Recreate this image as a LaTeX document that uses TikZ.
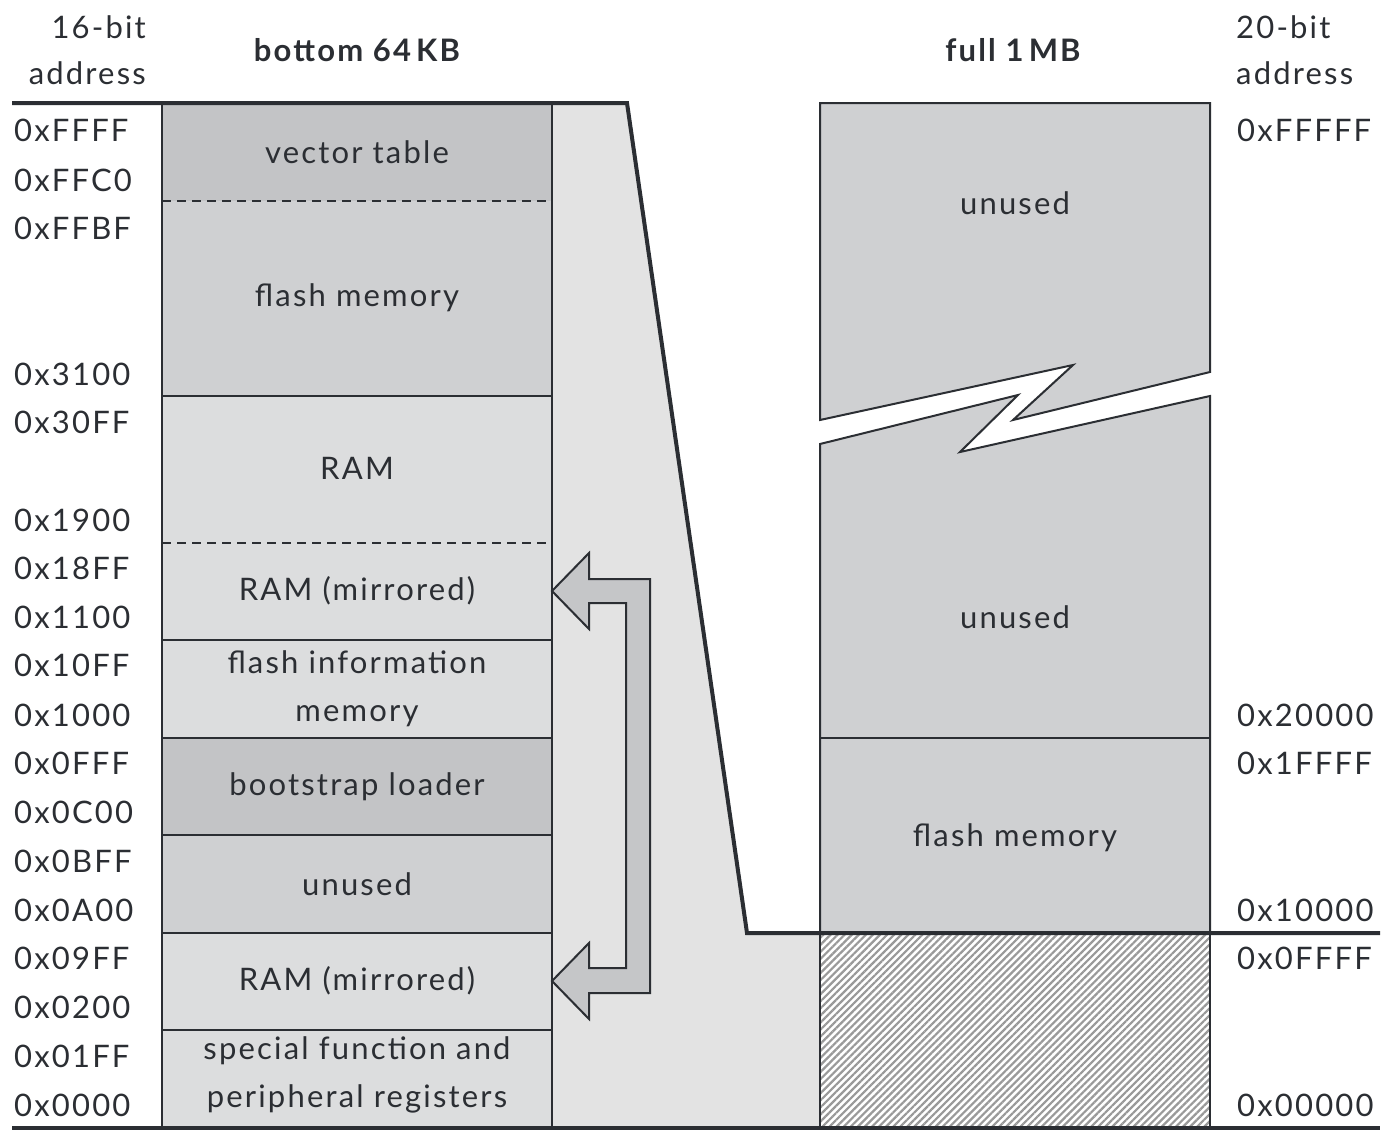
\documentclass[tikz,border=0pt]{standalone}
\usepackage{fontspec}
\setmainfont{Lato}[LetterSpace=7]
\usetikzlibrary{patterns.meta}
\definecolor{ink}{HTML}{2B2E33}
\definecolor{dark}{HTML}{C3C4C6}
\definecolor{mid}{HTML}{CFD0D2}
\definecolor{light}{HTML}{DCDDDE}
\definecolor{bgl}{HTML}{E3E3E3}
\definecolor{arr}{HTML}{C5C6C8}
\tikzset{
  txt/.style={font=\fontsize{31}{48}\selectfont, text=ink, inner sep=0pt, align=center},
  addr/.style={font=\fontsize{31}{48}\selectfont, text=ink, inner sep=0pt, anchor=west},
  hdr/.style={font=\fontsize{31}{46}\selectfont\bfseries, text=ink, inner sep=0pt},
  thick line/.style={draw=ink, line width=4pt},
  col line/.style={draw=ink, line width=2.5pt},
  blk line/.style={draw=ink, line width=2pt},
  dash line/.style={draw=ink, line width=1.8pt, dash pattern=on 9pt off 6pt},
}
\begin{document}
\begin{tikzpicture}[x=1pt,y=-1pt]
\useasboundingbox (0,0) rectangle (1394,1143);
% light background region
\fill[bgl] (552,103) -- (627,103) -- (747,933) -- (820,933) -- (820,1128) -- (552,1128) -- cycle;
% left column fills
\fill[dark]  (162,103) rectangle (552,201);
\fill[mid]   (162,201) rectangle (552,396);
\fill[light] (162,396) rectangle (552,738);
\fill[dark]  (162,738) rectangle (552,835);
\fill[mid]   (162,835) rectangle (552,933);
\fill[light] (162,933) rectangle (552,1128);
% left column separators
\draw[dash line] (162,201) -- (552,201);
\draw[col line] (162,396) -- (552,396);
\draw[dash line] (162,543) -- (552,543);
\draw[col line] (162,640) -- (552,640);
\draw[col line] (162,738) -- (552,738);
\draw[col line] (162,835) -- (552,835);
\draw[col line] (162,933) -- (552,933);
\draw[col line] (162,1030) -- (552,1030);
\draw[col line] (162,103) -- (162,1128);
\draw[col line] (552,103) -- (552,1128);
% right column
\filldraw[fill=mid, blk line, line join=miter] (820,103) -- (1210,103) -- (1210,372) -- (1013,420) -- (1073,365) -- (820,420) -- cycle;
\filldraw[fill=mid, blk line, line join=miter] (820,444) -- (1018,395) -- (960,452) -- (1210,396) -- (1210,933) -- (820,933) -- cycle;
\draw[blk line] (820,738) -- (1210,738);
\fill[white] (820,933) rectangle (1210,1128);
\fill[pattern={Lines[angle=45,distance=5pt,line width=2.2pt]}, pattern color=black!40] (820,933) rectangle (1210,1128);
\draw[col line] (820,933) -- (820,1128);
\draw[col line] (1210,933) -- (1210,1128);
% mirror arrow
\filldraw[fill=arr, draw=ink, line width=2pt, line join=miter]
  (552,591) -- (589,553) -- (589,579) -- (650,579) -- (650,993) -- (589,993) -- (589,1019)
  -- (552,981) -- (589,943) -- (589,968) -- (626,968) -- (626,603) -- (589,603) -- (589,629) -- cycle;
% thick outline
\draw[thick line, line join=miter] (12,103) -- (627,103) -- (747,933) -- (1380,933);
\draw[thick line] (12,1128) -- (1380,1128);
% headers
\node[txt, align=right, anchor=east, font=\fontsize{31}{46}\selectfont] (h16) at (146,50) {16-bit\\address};
\node[txt, align=left, anchor=west, font=\fontsize{31}{46}\selectfont] (h20) at (1236,50) {20-bit\\address};
\node[hdr] (hb) at (357,50) {bottom 64\,KB};
\node[hdr] (hf) at (1013,50) {full 1\,MB};
% block texts
\node[txt] (t1) at (357,152) {vector table};
\node[txt] (t2) at (357,298) {flash memory};
\node[txt] (t3) at (357,468) {RAM};
\node[txt] (t4) at (357,591) {RAM (mirrored)};
\node[txt] (t5) at (357,689) {flash information\\memory};
\node[txt] (t6) at (357,787) {bootstrap loader};
\node[txt] (t7) at (357,884) {unused};
\node[txt] (t8) at (357,981) {RAM (mirrored)};
\node[txt] (t9) at (357,1075) {special function and\\peripheral registers};
\node[txt] (r1) at (1015,203) {unused};
\node[txt] (r2) at (1015,617) {unused};
\node[txt] (r3) at (1015,838) {flash memory};
% 16-bit addresses
\node[addr] (a1) at (14,130) {0xFFFF};
\node[addr] (a2) at (14,180) {0xFFC0};
\node[addr] (a3) at (14,228) {0xFFBF};
\node[addr] (a4) at (14,374) {0x3100};
\node[addr] (a5) at (14,422) {0x30FF};
\node[addr] (a6) at (14,520) {0x1900};
\node[addr] (a7) at (14,568) {0x18FF};
\node[addr] (a8) at (14,617) {0x1100};
\node[addr] (a9) at (14,665) {0x10FF};
\node[addr] (a10) at (14,715) {0x1000};
\node[addr] (a11) at (14,763) {0x0FFF};
\node[addr] (a12) at (14,812) {0x0C00};
\node[addr] (a13) at (14,861) {0x0BFF};
\node[addr] (a14) at (14,910) {0x0A00};
\node[addr] (a15) at (14,958) {0x09FF};
\node[addr] (a16) at (14,1007) {0x0200};
\node[addr] (a17) at (14,1056) {0x01FF};
\node[addr] (a18) at (14,1105) {0x0000};
% 20-bit addresses
\node[addr] (b1) at (1237,130) {0xFFFFF};
\node[addr] (b2) at (1237,715) {0x20000};
\node[addr] (b3) at (1237,763) {0x1FFFF};
\node[addr] (b4) at (1237,910) {0x10000};
\node[addr] (b5) at (1237,958) {0x0FFFF};
\node[addr] (b6) at (1237,1105) {0x00000};
\end{tikzpicture}
\end{document}
